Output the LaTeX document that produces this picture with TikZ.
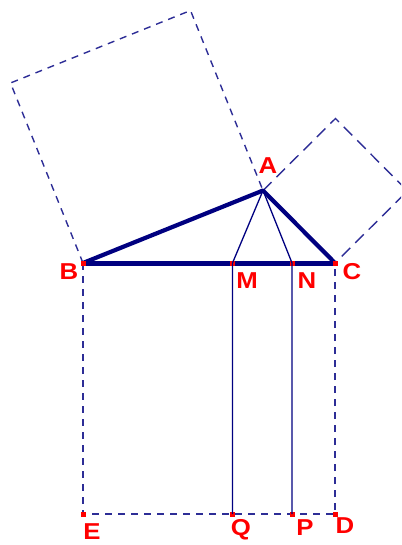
\documentclass[tikz,border=0pt]{standalone}
\usepackage{fontspec}
\setmainfont{Liberation Sans}
\usetikzlibrary{calc}
\definecolor{navy}{RGB}{0,0,128}
\definecolor{dashblue}{RGB}{45,45,150}
\definecolor{ptred}{RGB}{255,0,0}

\begin{document}
\begin{tikzpicture}[x=1pt,y=-1pt,
  every node/.style={font=\bfseries\fontsize{23}{23}\selectfont,text=ptred,inner sep=0pt},
  thickside/.style={navy,line width=4.2pt,line cap=round,line join=round},
  thinline/.style={navy,line width=1.3pt},
  fineddash/.style={dashblue,line width=1.4pt,dash pattern=on 7pt off 6pt},
  longdash/.style={dashblue,line width=1.4pt,dash pattern=on 12pt off 7pt},
  marker/.style={fill=ptred,minimum size=5pt,inner sep=0pt}]
  \useasboundingbox (0,0) rectangle (401,545);
  \clip (0,0) rectangle (401,545);

  \coordinate (A) at (263,190.5);
  \coordinate (B) at (83,263);
  \coordinate (C) at (335,263);
  \coordinate (M) at (232.5,263);
  \coordinate (N) at (292,263);
  \coordinate (E) at (83,514);
  \coordinate (Q) at (232.5,514);
  \coordinate (P) at (292,514);
  \coordinate (D) at (335,514);

  % squares on the two short sides
  \coordinate (B1) at ($(B)!1!90:(A)$);
  \coordinate (A1) at ($(A)!1!-90:(B)$);
  \coordinate (C1) at ($(C)!1!-90:(A)$);
  \coordinate (A2) at ($(A)!1!90:(C)$);
  \draw[fineddash] (B) -- (B1) -- (A1) -- (A);
  \draw[longdash] (A) -- (A2) -- (C1) -- (C);

  % square on the hypotenuse
  \draw[fineddash] (B) -- (E) -- (Q) -- (P) -- (D) -- (C);

  \draw[thickside] (B) -- (A) -- (C);
  \draw[navy,line width=5pt] (B) -- (C);

  \foreach \p in {B,C,M,N,E,Q,P,D}
    \node[marker] (m\p) at (\p) {};

  \draw[thinline] (A) -- (M) -- (Q);
  \draw[thinline] (A) -- (N) -- (P);

  \foreach \p/\x/\y in {A/268/166,B/69/272,C/352/272,M/247/281,N/307/281,
                        E/92/532,Q/241/530,P/305/528,D/345/526}
    \node[xscale=1.12] (l\p) at (\x,\y) {\p};
\end{tikzpicture}
\end{document}
